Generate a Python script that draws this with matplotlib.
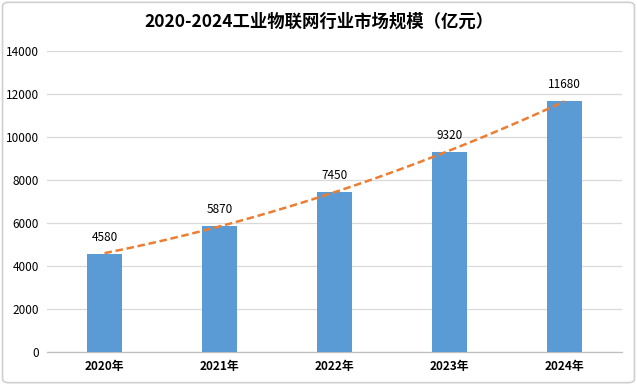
import matplotlib
matplotlib.use("Agg")
import matplotlib.pyplot as plt
import numpy as np
from matplotlib.patches import FancyBboxPatch

plt.rcParams['font.family'] = ['Noto Sans CJK SC', 'DejaVu Sans']

categories = ["2020年", "2021年", "2022年", "2023年", "2024年"]
values = [4580, 5870, 7450, 9320, 11680]
yticks = [0, 2000, 4000, 6000, 8000, 10000, 12000, 14000]
title = "2020-2024工业物联网行业市场规模（亿元）"

fig = plt.figure(figsize=(6.37, 3.85), dpi=100)
ax = fig.add_axes([0.0738, 0.0857, 0.9027, 0.7818])

x = np.arange(len(categories))
ax.bar(x, values, width=0.30, color="#5B9BD5", zorder=3)

# polynomial trendline (degree 2) fitted to the data
coef = np.polyfit(x, values, 2)
xs = np.linspace(0, len(categories) - 1, 200)
ax.plot(xs, np.polyval(coef, xs), linestyle=(0, (3, 1.5)), color="#ED7D31", lw=1.8, zorder=4)

for xi, v in zip(x, values):
    ax.text(xi, v + 450, str(v), ha="center", va="bottom", fontsize=8.5, color="#000000", zorder=5)

ax.set_xlim(-0.5, len(categories) - 0.5)
ax.set_ylim(0, 14000)
ax.set_yticks(yticks)
ax.set_yticklabels([str(t) for t in yticks], fontsize=8.5)
ax.set_xticks(x)
ax.set_xticklabels(categories, fontsize=8.5, fontweight="bold")
ax.tick_params(length=0, pad=6)
ax.grid(axis="y", color="#D9D9D9", lw=0.9, zorder=0)
for s in ["top", "right", "left"]:
    ax.spines[s].set_visible(False)
ax.spines["bottom"].set_color("#BFBFBF")
ax.spines["bottom"].set_linewidth(0.9)

fig.text(0.5, 0.945, title, ha="center", va="center", fontsize=12.5, fontweight="bold")

border = FancyBboxPatch((0.004, 0.006), 0.992, 0.988, boxstyle="round,pad=0,rounding_size=0.01",
                        transform=fig.transFigure, fill=False, edgecolor="#D0D0D0", lw=1.2)
fig.patches.append(border)

fig.savefig("out.png", dpi=100)
